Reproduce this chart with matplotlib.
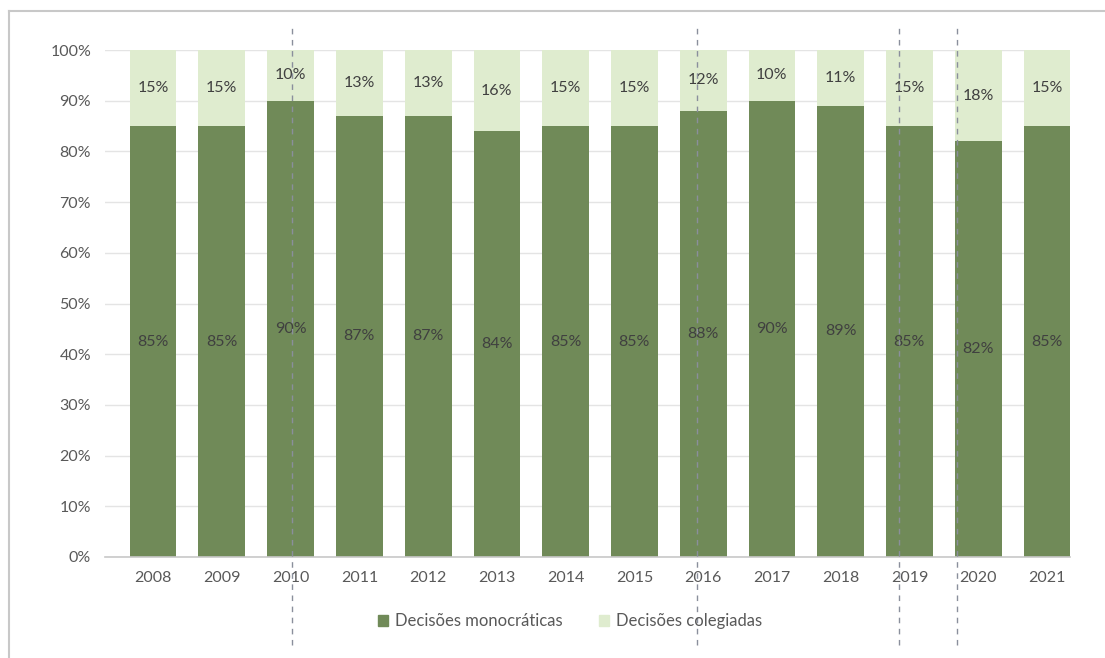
import matplotlib.pyplot as plt
from matplotlib.lines import Line2D
from matplotlib.patches import Patch

plt.rcParams['font.family'] = ['Lato', 'DejaVu Sans']

anos = ['2008', '2009', '2010', '2011', '2012', '2013', '2014',
        '2015', '2016', '2017', '2018', '2019', '2020', '2021']
monocraticas = [85, 85, 90, 87, 87, 84, 85, 85, 88, 90, 89, 85, 82, 85]
colegiadas = [15, 15, 10, 13, 13, 16, 15, 15, 12, 10, 11, 15, 18, 15]
# dashed markers drawn over the bars (position on the year axis)
marcos = [2.02, 7.91, 10.85, 11.69]

cor_mono = '#708a58'
cor_coleg = '#dfeccf'
cor_texto = '#404040'

fig = plt.figure(figsize=(11.05, 6.58), dpi=100)
ax = fig.add_axes([0.095, 0.1535, 0.873, 0.7705])

x = list(range(len(anos)))
mono = [v / 100 for v in monocraticas]
coleg = [v / 100 for v in colegiadas]
b1 = ax.bar(x, mono, width=0.68, color=cor_mono, zorder=2)
b2 = ax.bar(x, coleg, width=0.68, bottom=mono, color=cor_coleg, zorder=2)

for rect, v in zip(b1, monocraticas):
    ax.text(rect.get_x() + rect.get_width() / 2, rect.get_height() / 2, f'{v}%',
            ha='center', va='center', fontsize=11.5, color=cor_texto, zorder=3)
for rect, v in zip(b2, colegiadas):
    ax.text(rect.get_x() + rect.get_width() / 2, rect.get_y() + rect.get_height() / 2,
            f'{v}%', ha='center', va='center', fontsize=11.5, color=cor_texto, zorder=3)

ax.set_xlim(-0.7, 13.33)
ax.set_ylim(0, 1)
ax.set_yticks([i / 10 for i in range(11)])
ax.set_yticklabels([f'{i * 10}%' for i in range(11)])
ax.set_xticks(x)
ax.set_xticklabels(anos)
ax.tick_params(axis='both', length=0, labelsize=11.5, colors='#595959')
ax.tick_params(axis='x', pad=10)
ax.tick_params(axis='y', pad=10)
ax.grid(axis='y', color='#e4e4e4', linewidth=1, zorder=0)
for s in ['top', 'right', 'left']:
    ax.spines[s].set_visible(False)
ax.spines['bottom'].set_color('#c8c8c8')
ax.spines['bottom'].set_linewidth(1.2)

for m in marcos:
    ax.axvline(m, ymin=-0.174, ymax=1.043, clip_on=False, color='#8a8f9c',
               linestyle=(0, (4, 4)), linewidth=1, zorder=4)

handles = [Patch(color=cor_mono), Patch(color=cor_coleg)]
fig.legend(handles, ['Decisões monocráticas', 'Decisões colegiadas'],
           loc='center', bbox_to_anchor=(0.516, 0.056), ncol=2, frameon=False,
           fontsize=12, labelcolor='#595959', handlelength=0.6, handleheight=0.6,
           handletextpad=0.4, columnspacing=2.2)

# frame line along the left and top edges
fig.add_artist(Line2D([9 / 1105, 9 / 1105], [0, 1 - 11 / 658], color='#c8c8c8', linewidth=1.5))
fig.add_artist(Line2D([9 / 1105, 1], [1 - 11 / 658, 1 - 11 / 658], color='#c8c8c8', linewidth=1.5))

fig.savefig('out.png', dpi=100)
